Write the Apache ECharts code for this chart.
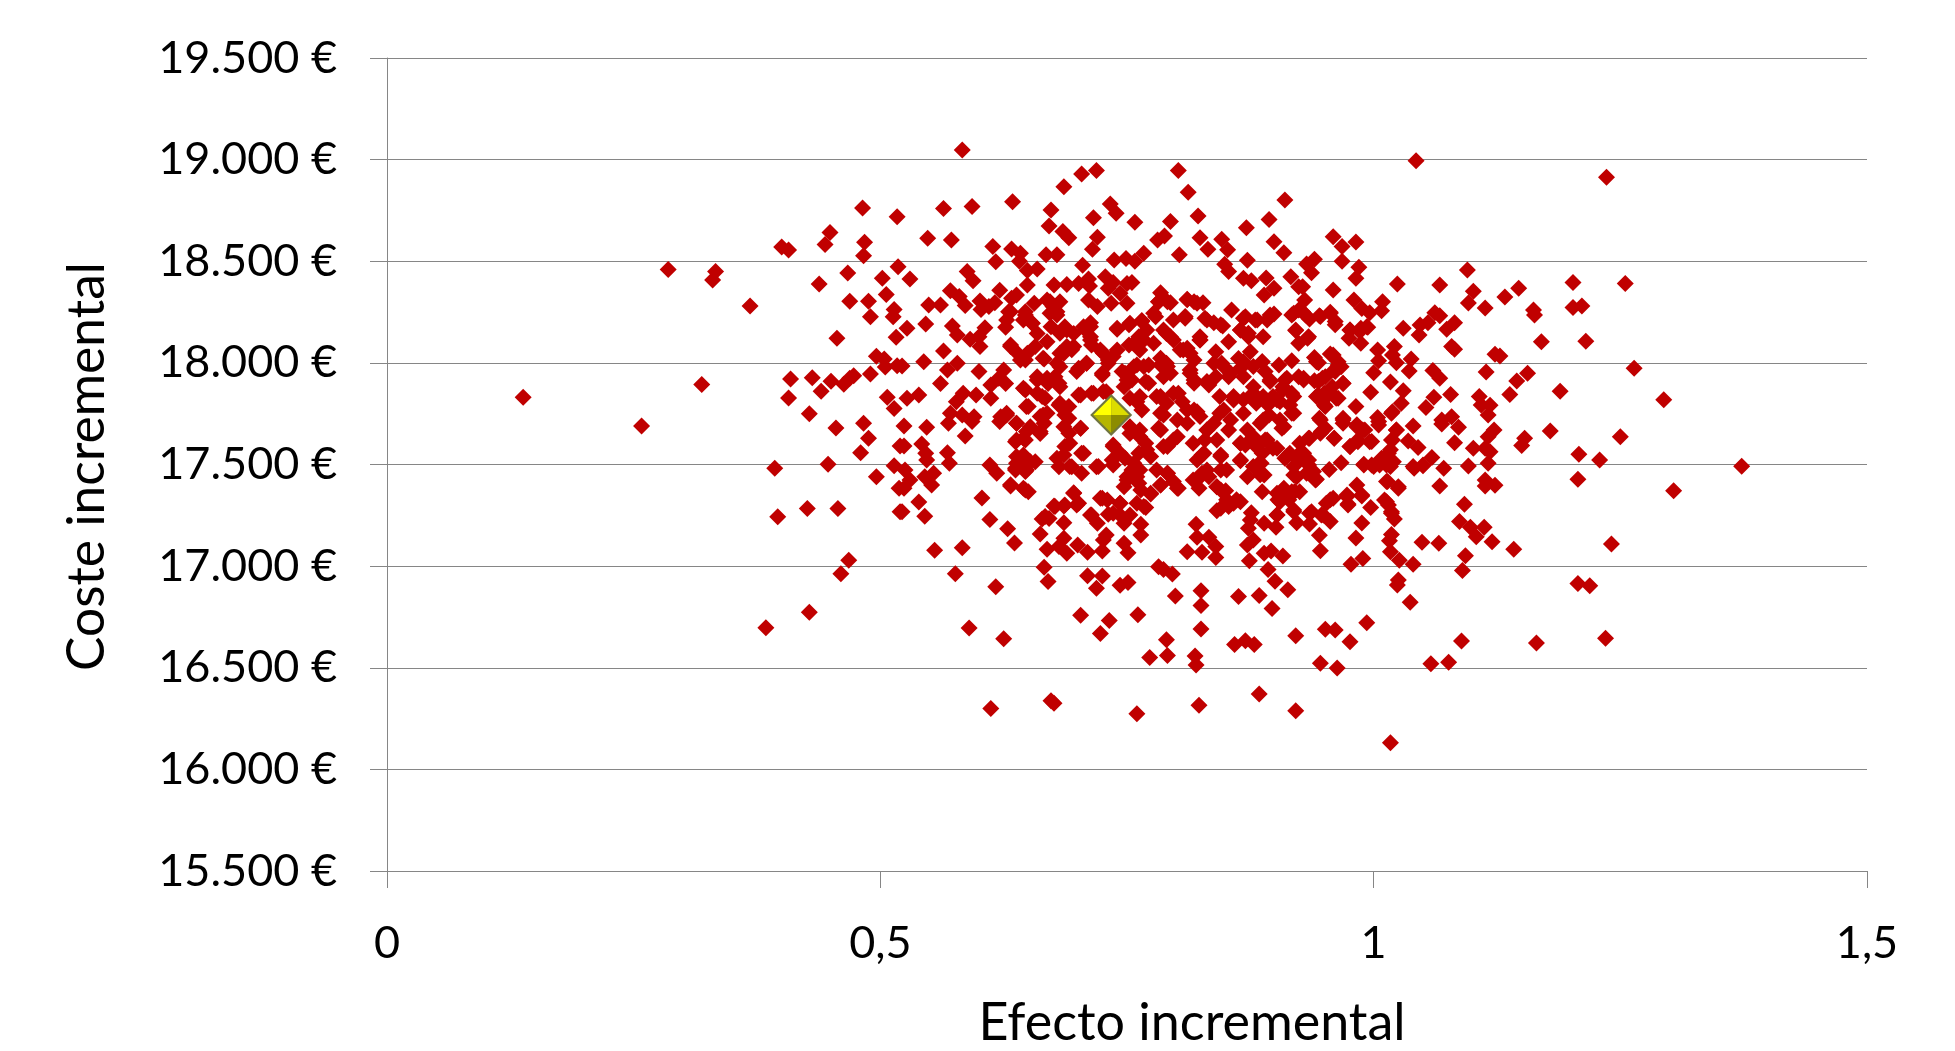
<!DOCTYPE html>
<html>
<head>
<meta charset="utf-8">
<style>html,body{margin:0;padding:0;background:#fff}#chart{width:1955px;height:1051px}</style>
<script src="https://cdn.jsdelivr.net/npm/echarts@6/dist/echarts.min.js"></script>
</head>
<body>
<div id="chart"></div>
<script>
const xTitle = 'Efecto incremental';
const yTitle = 'Coste incremental';
const meanPoint = [[0.734, 17744]];

const pointsLeft = [
[.482,18762],[.517,18719],[.449,18642],[.444,18583],[.400,18570],[.407,18555],[.484,18593],[.483,18527],[.518,18473],[.285,18459],
[.333,18450],[.330,18408],[.467,18442],[.438,18388],[.502,18416],[.506,18336],[.469,18303],[.488,18303],[.514,18263],[.490,18227],
[.513,18227],[.368,18280],[.456,18121],[.516,18126],[.496,18032],[.504,18019],[.505,17980],[.517,17986],[.409,17921],[.431,17927],
[.450,17909],[.440,17860],[.463,17895],[.469,17924],[.473,17937],[.490,17945],[.407,17827],[.507,17831],[.514,17775],[.428,17750],
[.319,17893],[.138,17831],[.258,17689],[.455,17680],[.483,17703],[.488,17629],[.520,17591],[.480,17558],[.393,17481],[.447,17501],
[.514,17494],[.496,17440],[.519,17383],[.426,17284],[.457,17284],[.396,17243],[.520,17268],[.468,17029],[.460,16963],[.428,16773],
[.384,16697]
];

const pointsUpperMiddle = [
[.583,19047],[.704,18929],[.719,18947],[.802,18947],[.686,18867],[.812,18839],[.910,18801],[.564,18760],[.593,18769],[.634,18793],
[.673,18752],[.733,18782],[.739,18736],[.716,18714],[.671,18673],[.758,18692],[.794,18696],[.822,18723],[.894,18706],[.871,18665],
[.685,18646],[.691,18616],[.720,18618],[.548,18613],[.572,18605],[.788,18624],[.781,18605],[.824,18616],[.846,18608],[.899,18596],
[.614,18573],[.633,18560],[.642,18539],[.715,18559],[.832,18559],[.852,18557],[.909,18542],[.668,18532],[.679,18532],[.767,18539],
[.803,18532],[.617,18498],[.641,18500],[.737,18506],[.749,18513],[.758,18500],[.872,18505],[.705,18480],[.849,18485],[.853,18449],
[.649,18455],[.659,18462],[.588,18449],[.530,18413],[.594,18404],[.868,18416],[.876,18404],[.891,18418],[.916,18424],[.924,18375],
[.649,18383],[.676,18383],[.689,18386],[.701,18391],[.711,18413],[.712,18378],[.728,18424],[.736,18396],[.731,18367],[.750,18391],
[.755,18395],[.621,18357],[.571,18355],[.580,18326],[.586,18282],[.638,18334],[.633,18318],[.601,18304],[.616,18296],[.610,18277],
[.602,18263],[.549,18285],[.561,18285],[.656,18293],[.669,18309],[.682,18301],[.675,18277],[.679,18236],[.711,18309],[.720,18277],
[.734,18293],[.743,18342],[.750,18293],[.784,18345],[.782,18301],[.794,18296],[.811,18313],[.818,18301],[.827,18296],[.899,18367],
[.889,18334],[.856,18260],[.899,18240],[.917,18235],[.924,18260],[.630,18252],[.647,18252],[.546,18191],[.527,18170],[.573,18181],
[.578,18137],[.606,18173],[.627,18175],[.645,18211],[.654,18195],[.659,18145],[.673,18178],[.687,18178],[.696,18145],[.713,18198],
[.708,18162],[.740,18165],[.753,18195],[.765,18208],[.779,18227],[.797,18211],[.809,18219],[.829,18219],[.838,18198],[.847,18181],
[.870,18227],[.880,18211],[.892,18211],[.865,18162],[.873,18129],[.888,18129],[.921,18159],[.924,18096],[.564,18058],[.591,18116],
[.600,18129],[.601,18080],[.632,18088],[.639,18047],[.647,18014],[.657,18080],[.669,18104],[.666,18019],[.689,18080],[.682,18047],
[.696,18080],[.713,18113],[.723,18063],[.740,18063],[.731,18014],[.752,18088],[.762,18129],[.763,18063],[.777,18096],[.790,18145],
[.797,18113],[.807,18063],[.824,18113],[.814,18047],[.853,18104],[.840,18055],[.875,18055],[.863,18022],[.544,18006],[.522,17985],
[.578,17998],[.568,17965],[.600,17957],[.625,17965],[.620,17924],[.627,17899],[.561,17899],[.584,17850],[.597,17842],[.612,17891],
[.612,17826],[.539,17842],[.527,17826],[.577,17809],[.709,17998],[.699,17957],[.682,17981],[.725,17940],[.745,17957],[.750,17916],
[.769,17908],[.757,17981],[.772,17990],[.784,17990],[.790,17998],[.794,17949],[.814,17965],[.818,18014],[.818,17916],[.833,17891],
[.840,17932],[.853,17932],[.846,17998],[.868,18006],[.868,17932],[.887,18006],[.904,17990],[.917,18011],[.910,17916],[.924,17932],
[.895,17916],[.878,17883],[.659,17932],[.670,17899],[.682,17883],[.677,17932],[.647,17867],[.659,17850],[.667,17826],[.648,17785],
[.681,17793],[.691,17785],[.701,17842],[.716,17850],[.729,17858],[.753,17826],[.763,17834],[.765,17768],[.780,17834],[.790,17801],
[.802,17850],[.811,17768],[.821,17760],[.844,17834],[.858,17817],[.875,17834],[.888,17834],[.908,17883],[.902,17817],[.919,17834],
[.844,17752],[.868,17752],[.894,17744],[.917,17752],[.571,17752],[.583,17744],[.595,17735],[.628,17752],[.622,17735],[.665,17744],
[.687,17744],[.787,17744]
];

const pointsUpperRight = [
[1.043,18995],[1.236,18913],[.959,18621],[.982,18595],[.968,18572],[.940,18510],[.932,18487],[.968,18500],[.985,18470],[.937,18444],
[.982,18416],[1.024,18388],[1.095,18457],[1.067,18383],[1.202,18395],[1.255,18391],[.959,18359],[.928,18375],[1.101,18352],[1.147,18367],
[1.133,18324],[.930,18309],[.980,18309],[1.009,18301],[1.096,18295],[1.113,18270],[1.202,18273],[1.211,18280],[1.162,18260],[1.163,18236],
[.988,18268],[.996,18247],[1.008,18257],[.928,18252],[.935,18216],[.945,18232],[.956,18249],[.961,18203],[1.062,18247],[1.067,18232],
[1.082,18198],[1.055,18198],[1.047,18186],[1.074,18165],[1.030,18170],[1.046,18137],[.994,18175],[.986,18154],[.976,18162],[.975,18121],
[.933,18121],[.987,18096],[1.170,18104],[1.215,18106],[1.079,18080],[1.082,18067],[1.021,18080],[1.004,18063],[1.123,18042],[1.128,18034],
[1.019,18039],[1.005,18011],[1.023,18001],[1.038,18019],[.940,18027],[.944,18001],[.956,18044],[.964,18006],[.960,17965],[.967,17981],
[1.060,17962],[1.067,17924],[1.036,17960],[1.000,17952],[1.114,17955],[1.156,17949],[1.145,17911],[1.264,17973],[1.189,17860],[1.294,17819],
[.929,17916],[.940,17912],[.948,17924],[.969,17899],[.958,17883],[1.017,17906],[.997,17855],[1.030,17863],[1.061,17831],[1.078,17845],
[1.138,17845],[1.107,17834],[1.118,17791],[1.109,17793],[1.028,17801],[1.053,17781],[.982,17785],[.942,17834],[.950,17850],[.962,17826],
[.950,17793],[1.019,17760],[1.004,17731],[.945,17727],[.969,17727],[1.116,17744],[1.079,17735],[1.069,17719]
];

const pointsLowerRight = [
[1.040,17689],[1.069,17699],[1.086,17683],[1.122,17670],[1.116,17637],[1.179,17665],[1.153,17629],[1.150,17594],[1.250,17637],[1.208,17550],
[1.229,17522],[1.373,17491],[1.207,17427],[1.304,17371],[1.241,17109],[1.207,16914],[1.219,16904],[1.235,16645],[1.165,16622],[1.089,16632],
[1.076,16527],[1.058,16520],[.993,16722],[.951,16689],[.961,16686],[.976,16628],[.946,16522],[.963,16499],[1.017,16131],[1.037,16822],
[1.025,16932],[1.024,16907],[1.090,16978],[1.093,17051],[1.142,17083],[1.120,17120],[1.104,17145],[1.112,17191],[1.098,17191],[1.087,17219],
[1.066,17112],[1.049,17117],[1.040,17009],[1.026,17029],[1.017,17071],[1.016,17125],[1.018,17156],[.989,17038],[.977,17009],[.946,17076],
[.945,17152],[.982,17138],[.988,17212],[.935,17207],[.956,17219],[.947,17252],[.937,17268],[.997,17289],[1.021,17232],[1.018,17268],
[1.015,17301],[1.011,17325],[1.092,17304],[.974,17306],[.988,17345],[.973,17350],[.959,17334],[.952,17309],[.983,17399],[1.067,17394],
[1.113,17424],[1.113,17394],[1.123,17398],[1.116,17506],[1.096,17493],[1.071,17481],[1.059,17534],[1.050,17494],[1.041,17481],[1.101,17580],
[1.113,17580],[1.118,17563],[1.082,17607],[1.045,17584],[1.035,17616],[1.025,17383],[1.014,17416],[1.020,17514],[1.013,17498],[1.006,17498],
[.998,17498],[.990,17501],[1.015,17555],[1.019,17621],[1.023,17670],[1.005,17694],[.967,17509],[.955,17476],[.942,17427],[.934,17498],
[.929,17555],[.935,17629],[.947,17662],[.960,17629],[.976,17588],[.984,17612],[.996,17612],[.989,17670],[.969,17703],[.983,17686],
[.939,17465],[.925,17366]
];

const pointsLowerMiddle = [
[.524,17689],[.547,17683],[.569,17703],[.593,17711],[.586,17640],[.524,17591],[.542,17601],[.546,17555],[.547,17522],[.568,17558],
[.570,17506],[.525,17473],[.530,17424],[.524,17383],[.545,17440],[.554,17457],[.552,17399],[.611,17498],[.618,17457],[.539,17316],
[.545,17245],[.522,17268],[.603,17335],[.611,17229],[.629,17184],[.636,17114],[.555,17078],[.583,17091],[.576,16963],[.617,16899],
[.666,16994],[.670,16924],[.590,16696],[.625,16643],[.612,16299],[.673,16338],[.676,16325],[.760,16274],[.823,16315],[.884,16371],
[.921,16289],[.703,16758],[.723,16669],[.732,16732],[.761,16761],[.773,16551],[.791,16560],[.790,16638],[.819,16558],[.820,16514],
[.825,16691],[.825,16806],[.825,16879],[.799,16853],[.796,16961],[.782,16997],[.787,16984],[.863,16851],[.884,16855],[.897,16791],
[.913,16884],[.900,16925],[.893,16984],[.859,16615],[.870,16633],[.879,16615],[.921,16658],[.710,16953],[.725,16951],[.719,16891],
[.743,16906],[.751,16920],[.874,17027],[.908,17050],[.896,17075],[.889,17063],[.840,17042],[.826,17068],[.840,17096],[.811,17071],
[.833,17142],[.821,17142],[.820,17206],[.872,17104],[.878,17129],[.873,17186],[.875,17227],[.876,17263],[.889,17211],[.901,17191],
[.902,17252],[.922,17214],[.751,17066],[.747,17112],[.725,17074],[.710,17068],[.700,17104],[.689,17063],[.681,17096],[.686,17137],
[.669,17083],[.662,17158],[.686,17214],[.671,17234],[.664,17232],[.676,17296],[.686,17296],[.699,17301],[.696,17361],[.729,17153],
[.726,17129],[.764,17153],[.764,17206],[.747,17211],[.753,17252],[.731,17255],[.743,17309],[.743,17252],[.723,17334],[.730,17325],
[.713,17252],[.720,17211],[.760,17309],[.769,17289],[.774,17355],[.764,17375],[.747,17391],[.760,17440],[.750,17440],[.757,17506],
[.763,17473],[.784,17399],[.780,17473],[.791,17457],[.797,17416],[.802,17383],[.817,17424],[.823,17383],[.841,17391],[.850,17371],
[.887,17366],[.865,17317],[.853,17293],[.841,17273],[.858,17309],[.902,17358],[.909,17383],[.917,17366],[.905,17317],[.919,17276],
[.872,17440],[.889,17448],[.884,17506],[.865,17519],[.887,17555],[.870,17596],[.892,17621],[.902,17580],[.912,17539],[.919,17448],
[.924,17522],[.826,17457],[.833,17440],[.845,17473],[.826,17547],[.845,17547],[.829,17621],[.817,17604],[.801,17637],[.791,17588],
[.784,17670],[.811,17703],[.831,17670],[.853,17670],[.865,17604],[.885,17703],[.909,17686],[.774,17539],[.769,17604],[.763,17670],
[.753,17653],[.736,17596],[.743,17555],[.736,17498],[.719,17489],[.706,17555],[.704,17457],[.694,17489],[.681,17489],[.686,17547],
[.692,17604],[.686,17686],[.703,17678],[.662,17653],[.648,17662],[.637,17612],[.645,17629],[.638,17539],[.637,17473],[.648,17473],
[.657,17514],[.643,17514],[.632,17394],[.645,17383],[.650,17366],[.638,17703],[.621,17711],[.666,17703]
];

const pointsCoreLeft = [
[.632,18080],[.642,18014],[.649,18047],[.665,18023],[.686,18047],[.694,18064],[.679,17998],[.701,17973],[.709,17998],[.725,17949],
[.714,18088],[.726,18047],[.736,18031],[.731,17998],[.757,18096],[.767,18113],[.748,17949],[.755,17916],[.767,17982],[.760,17990],
[.784,18023],[.791,17982],[.787,17932],[.772,17900],[.811,18072],[.804,18064],[.824,18113],[.838,17998],[.848,17982],[.855,17949],
[.865,17973],[.831,17908],[.814,17949],[.818,17900],[.659,17916],[.669,17924],[.681,17900],[.645,17875],[.664,17834],[.650,17785],
[.628,17744],[.638,17703],[.662,17736],[.669,17752],[.662,17662],[.652,17686],[.638,17621],[.647,17621],[.682,17801],[.691,17727],
[.703,17678],[.691,17654],[.687,17588],[.679,17531],[.692,17490],[.704,17555],[.721,17490],[.736,17588],[.735,17522],[.748,17531],
[.762,17555],[.770,17572],[.755,17473],[.750,17424],[.762,17408],[.763,17637],[.753,17686],[.760,17809],[.703,17842],[.714,17850],
[.726,17859],[.747,17883],[.784,17834],[.797,17850],[.806,17809],[.818,17768],[.824,17736],[.784,17752],[.782,17678],[.801,17719],
[.787,17588],[.797,17621],[.831,17670],[.838,17703],[.848,17768],[.858,17834],[.868,17818],[.855,17719],[.841,17621],[.865,17604],
[.872,17670],[.821,17522],[.828,17555],[.845,17539],[.851,17473],[.831,17473],[.821,17424],[.841,17391],[.865,17522],[.645,17547],
[.638,17506],[.652,17514],[.647,17465],[.637,17481],[.642,17531],[.632,17400],[.647,17375],[.696,17358],[.701,17309],[.677,17293],
[.687,17301],[.725,17334],[.743,17309],[.767,17293],[.736,17260],[.714,17252],[.667,17244],[.774,17358],[.784,17399],[.791,17457],
[.801,17383],[.845,17375],[.851,17326],[.861,17326],[.845,17285]
];

const pointsCoreRight = [
[.878,17982],[.887,18006],[.890,17957],[.895,17908],[.912,17924],[.908,17867],[.917,17850],[.898,17834],[.881,17801],[.893,17793],
[.905,17809],[.915,17793],[.919,17752],[.905,17719],[.907,17678],[.888,17719],[.878,17850],[.878,17637],[.890,17621],[.881,17588],
[.898,17580],[.915,17555],[.910,17531],[.925,17604],[.934,17629],[.925,17555],[.934,17522],[.919,17490],[.922,17440],[.932,17457],
[.941,17424],[.886,17506],[.885,17449],[.878,17490],[.942,18006],[.959,18039],[.964,17990],[.961,17957],[.929,17924],[.944,17908],
[.951,17932],[.969,17900],[.944,17842],[.954,17842],[.951,17785],[.964,17826],[.946,17719],[.951,17678],[.946,17654],[.960,17629],
[.969,17719],[.983,17695],[.991,17670],[.984,17621],[.976,17588],[.998,17613],[1.005,17711],[1.018,17752],[1.023,17670],[1.018,17621],
[1.017,17572],[1.008,17531],[1.000,17490],[.990,17498],[1.017,17490],[1.013,17416],[1.025,17391],[.908,17375],[.903,17326],[.920,17367],
[.914,17326],[.919,17268],[.902,17252],[.956,17326],[.973,17342],[.974,17301],[.988,17350],[1.013,17317],[1.018,17260],[.935,17260],
[.949,17252],[1.040,17490],[1.050,17498]
];

const pointsCoreTop = [
[.672,18301],[.679,18252],[.672,18244],[.632,18252],[.628,18211],[.647,18236],[.654,18195],[.689,18162],[.682,18146],[.706,18178],
[.713,18178],[.713,18129],[.740,18170],[.752,18187],[.765,18203],[.777,18244],[.782,18301],[.791,18301],[.770,18162],[.787,18162],
[.794,18129],[.824,18129],[.811,18310],[.821,18293],[.809,18228],[.831,18211],[.845,18187],[.865,18162],[.873,18146],[.868,18219],
[.882,18211],[.895,18236],[.919,18244],[.931,18236],[.921,18162],[.934,18129],[.946,18228],[.956,18244],[.961,18187],[.976,18162],
[.987,18170],[.993,18178]
];

const simulations = [].concat(pointsLeft, pointsUpperMiddle, pointsUpperRight, pointsLowerRight, pointsLowerMiddle,
  pointsCoreLeft, pointsCoreRight, pointsCoreTop);

const fontFamily = 'Lato';
const textColor = '#000000';
const axisColor = '#868686';

function euro(v) {
  return String(v).replace(/\B(?=(\d{3})+$)/g, '.') + ' €';
}
function facet(symbolPath, w, h, dx, dy, color) {
  return {
    type: 'scatter', data: meanPoint, symbol: symbolPath, symbolSize: [w, h],
    symbolOffset: [dx, dy], silent: true, z: 12,
    itemStyle: { color: color, opacity: 1 }
  };
}

const chart = echarts.init(document.getElementById('chart'), null, { renderer: 'canvas' });
chart.setOption({
  animation: false,
  backgroundColor: '#ffffff',
  grid: { left: 387, right: 88, top: 58, bottom: 180, containLabel: false, outerBoundsMode: 'none' },
  xAxis: {
    type: 'value', min: 0, max: 1.5, interval: 0.5,
    name: xTitle, nameLocation: 'middle', nameGap: 126,
    nameTextStyle: { fontFamily, fontSize: 52, color: textColor, padding: [0, 0, 0, 130] },
    axisLine: { show: true, onZero: false, lineStyle: { color: axisColor, width: 1 } },
    axisTick: { show: true, length: 17, lineStyle: { color: axisColor, width: 1 } },
    axisLabel: { fontFamily, fontSize: 45, color: textColor, margin: 50, showMinLabel: true, showMaxLabel: true,
      formatter: v => String(v).replace('.', ',') },
    splitLine: { show: false }
  },
  yAxis: {
    type: 'value', min: 15500, max: 19500, interval: 500,
    name: yTitle, nameLocation: 'middle', nameGap: 274, nameRotate: 90,
    nameTextStyle: { fontFamily, fontSize: 51.5, color: textColor, padding: [0, 4, 0, 0] },
    axisLine: { show: true, onZero: false, lineStyle: { color: axisColor, width: 1 } },
    axisTick: { show: true, length: 17, lineStyle: { color: axisColor, width: 1 } },
    axisLabel: { fontFamily, fontSize: 45, color: textColor, margin: 50, padding: [8, 0, 0, 0], formatter: euro },
    splitLine: { show: true, lineStyle: { color: axisColor, width: 1 } }
  },
  series: [
    { type: 'scatter', data: simulations, symbol: 'diamond', symbolSize: 17, silent: true, z: 5,
      itemStyle: { color: '#c00000', opacity: 1 } },
    { type: 'scatter', data: meanPoint, symbol: 'diamond', symbolSize: 42, silent: true, z: 10,
      itemStyle: { color: '#6f7540', opacity: 1 } },
    facet('path://M1 0L1 1L0 1Z', 18, 18, -9, -9, '#ffff00'),
    facet('path://M0 0L1 1L0 1Z', 18, 18, 9, -9, '#dcdc00'),
    facet('path://M0 0L1 0L1 1Z', 18, 18, -9, 9, '#b5b500'),
    facet('path://M0 0L1 0L0 1Z', 18, 18, 9, 9, '#8c8c00')
  ]
});
</script>
</body>
</html>
